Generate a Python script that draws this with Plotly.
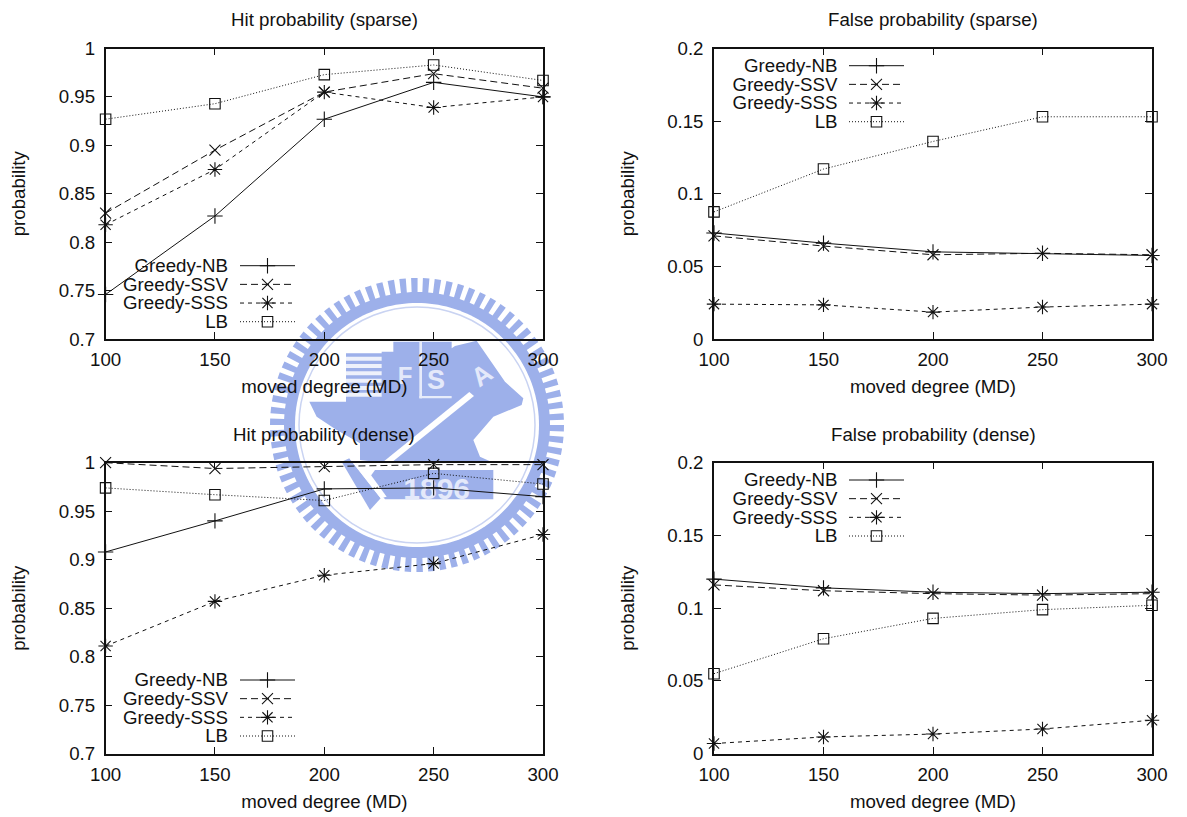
import numpy as np
import plotly.graph_objects as go

W, H = 1187, 817

# ---- data ----
moved_degree = [100, 150, 200, 250, 300]
series_names = ["Greedy-NB", "Greedy-SSV", "Greedy-SSS", "LB"]

hit_sparse_nb = [0.746, 0.827, 0.927, 0.965, 0.950]
hit_sparse_ssv = [0.830, 0.895, 0.955, 0.974, 0.959]
hit_sparse_sss = [0.818, 0.875, 0.955, 0.939, 0.950]
hit_sparse_lb = [0.927, 0.943, 0.973, 0.983, 0.967]

hit_dense_nb = [0.908, 0.940, 0.973, 0.974, 0.965]
hit_dense_ssv = [1.000, 0.994, 0.996, 0.998, 0.998]
hit_dense_sss = [0.811, 0.857, 0.884, 0.896, 0.926]
hit_dense_lb = [0.974, 0.967, 0.961, 0.989, 0.978]

false_sparse_nb = [0.073, 0.066, 0.060, 0.059, 0.0575]
false_sparse_ssv = [0.071, 0.064, 0.058, 0.059, 0.058]
false_sparse_sss = [0.024, 0.0235, 0.0185, 0.022, 0.024]
false_sparse_lb = [0.0875, 0.117, 0.136, 0.153, 0.153]

false_dense_nb = [0.120, 0.114, 0.111, 0.110, 0.111]
false_dense_ssv = [0.116, 0.112, 0.110, 0.109, 0.110]
false_dense_sss = [0.007, 0.0115, 0.0135, 0.017, 0.023]
false_dense_lb = [0.055, 0.079, 0.093, 0.099, 0.102]

hit_ticks = [0.7, 0.75, 0.8, 0.85, 0.9, 0.95, 1]
hit_labels = ["0.7", "0.75", "0.8", "0.85", "0.9", "0.95", "1"]
false_ticks = [0, 0.05, 0.1, 0.15, 0.2]
false_labels = ["0", "0.05", "0.1", "0.15", "0.2"]

FONT = "Liberation Sans, Arial, sans-serif"
FS = 18.7
INK = "#111111"
LOGO = "#9DB0EA"
STYLE = [
    dict(dash="solid", symbol="cross-thin", size=11),
    dict(dash="7px,4px", symbol="x-thin", size=11),
    dict(dash="4px,4px", symbol="asterisk", size=12),
    dict(dash="1px,2px", symbol="square-open", size=10.5),
]

PANELS = [
    dict(title="Hit probability (sparse)", vals=[hit_sparse_nb, hit_sparse_ssv, hit_sparse_sss, hit_sparse_lb],
         box=(105.6, 543, 48.5, 339), yr=(0.7, 1), ticks=hit_ticks, labels=hit_labels,
         leg=(228, 240, 295, 267.5, 265.7), title_y=20),
    dict(title="False probability (sparse)", vals=[false_sparse_nb, false_sparse_ssv, false_sparse_sss, false_sparse_lb],
         box=(714, 1152, 48.5, 339), yr=(0, 0.2), ticks=false_ticks, labels=false_labels,
         leg=(837.5, 849, 904, 876.5, 65.7), title_y=20),
    dict(title="Hit probability (dense)", vals=[hit_dense_nb, hit_dense_ssv, hit_dense_sss, hit_dense_lb],
         box=(105.6, 543, 462.7, 753.7), yr=(0.7, 1), ticks=hit_ticks, labels=hit_labels,
         leg=(228, 240, 295, 267.5, 680), title_y=434),
    dict(title="False probability (dense)", vals=[false_dense_nb, false_dense_ssv, false_dense_sss, false_dense_lb],
         box=(714, 1152, 462.7, 753.7), yr=(0, 0.2), ticks=false_ticks, labels=false_labels,
         leg=(837.5, 849, 904, 876.5, 480), title_y=434),
]

fig = go.Figure()
layout = dict(
    width=W, height=H, margin=dict(l=0, r=0, t=0, b=0, pad=0), autosize=False,
    paper_bgcolor="white", plot_bgcolor="rgba(0,0,0,0)", showlegend=False,
    font=dict(family=FONT, size=FS, color=INK),
)
annotations = []


def marker_of(st):
    return dict(symbol=st["symbol"], size=st["size"], color=INK, line=dict(color=INK, width=1.1))


for i, p in enumerate(PANELS):
    n = "" if i == 0 else str(i + 1)
    xa, ya = f"x{n}", f"y{n}"
    x0, x1, y0, y1 = p["box"]
    axis = dict(showline=True, mirror="allticks", linecolor=INK, linewidth=1.5, ticks="inside",
                ticklen=7, tickwidth=1.2, tickcolor=INK, showgrid=False, zeroline=False, automargin=False,
                tickfont=dict(family=FONT, size=FS, color=INK))
    layout[f"xaxis{n}"] = dict(axis, domain=[x0 / W, x1 / W], range=[100, 300], anchor=ya, ticklabelstandoff=3,
                               tickvals=moved_degree, ticktext=[str(v) for v in moved_degree],
                               title=dict(text="moved degree (MD)", standoff=11,
                                          font=dict(family=FONT, size=FS, color=INK)))
    layout[f"yaxis{n}"] = dict(axis, domain=[1 - y1 / H, 1 - y0 / H], range=list(p["yr"]), anchor=xa,
                               ticklabelstandoff=5, tickvals=p["ticks"], ticktext=p["labels"],
                               title=dict(text="probability", standoff=28,
                                          font=dict(family=FONT, size=FS, color=INK)))

    annotations.append(dict(text=p["title"], xref="paper", yref="paper", x=(x0 + x1) / 2 / W,
                            y=1 - p["title_y"] / H, showarrow=False, xanchor="center", yanchor="middle",
                            font=dict(family=FONT, size=FS, color=INK)))

    def dx(px):
        return 100 + (px - x0) / (x1 - x0) * 200

    def dy(py):
        return p["yr"][0] + (y1 - py) / (y1 - y0) * (p["yr"][1] - p["yr"][0])

    for name, vals, st in zip(series_names, p["vals"], STYLE):
        fig.add_trace(go.Scatter(
            x=moved_degree, y=vals, mode="lines+markers", name=name, xaxis=xa, yaxis=ya, cliponaxis=False,
            line=dict(color=INK, width=1, dash=st["dash"]), marker=marker_of(st)))

    # gnuplot-style key: right aligned label, then the sample line with its marker
    lab_x, key0, key1, key_m, row0 = p["leg"]
    for k, (name, st) in enumerate(zip(series_names, STYLE)):
        ry = dy(row0 + k * 18.67)
        fig.add_trace(go.Scatter(
            x=[dx(key0), dx(key_m), dx(key1)], y=[ry, ry, ry], mode="lines", xaxis=xa, yaxis=ya,
            line=dict(color=INK, width=1, dash=st["dash"]), cliponaxis=False, hoverinfo="skip"))
        fig.add_trace(go.Scatter(
            x=[dx(key_m)], y=[ry], mode="markers", xaxis=xa, yaxis=ya, cliponaxis=False, hoverinfo="skip",
            marker=marker_of(st)))
        fig.add_trace(go.Scatter(
            x=[dx(lab_x)], y=[dy(row0 + k * 18.67 + 1.5)], mode="text", text=[name], textposition="middle left",
            xaxis=xa, yaxis=ya, cliponaxis=False, hoverinfo="skip", textfont=dict(family=FONT, size=FS, color=INK)))

# ---- university seal watermark behind the charts (decoration, not data) ----
CX, CY = 417.0, 425.0


def fx(px):
    return px / W


def fy(py):
    return 1 - py / H


def path_from(points):
    return "M " + " L ".join(f"{fx(x):.5f},{fy(y):.5f}" for x, y in points) + " Z"


def crop(points):
    # seal outline points, measured in a 3x crop starting at (260, 270)
    return [(260 + x / 3, 270 + y / 3) for x, y in points]


def circle_pts(r, n=180):
    t = np.linspace(0, 2 * np.pi, n, endpoint=False)
    return list(zip(CX + r * np.cos(t), CY + r * np.sin(t)))


shapes = []


def add_poly(points, color):
    shapes.append(dict(type="path", xref="paper", yref="paper", path=path_from(points),
                       fillcolor=color, line=dict(width=0), layer="below"))


teeth = 78
pts = []
for j in range(teeth):
    a = 2 * np.pi * j / teeth
    step = 2 * np.pi / teeth
    for ang, r in [(a, 147), (a + step * 0.55, 147), (a + step * 0.55, 133), (a + step, 133)]:
        pts.append((CX + r * np.cos(ang), CY + r * np.sin(ang)))
add_poly(pts, LOGO)
add_poly(circle_pts(122), "white")
shapes.append(dict(type="circle", xref="paper", yref="paper", x0=fx(CX - 118), x1=fx(CX + 118),
                   y0=fy(CY + 118), y1=fy(CY - 118), line=dict(color="#C9D3F2", width=1.5), layer="below"))

# building, tower, flame emblem
add_poly(crop([(148, 395), (258, 395), (258, 250), (365, 250), (365, 245), (400, 245), (400, 215), (575, 215),
               (575, 235), (585, 228), (650, 212), (735, 335), (790, 385), (785, 405), (700, 440), (640, 510),
               (660, 560), (700, 578), (370, 578), (300, 570), (300, 520), (230, 480), (170, 440)]), LOGO)
# windows on the building
for yy in (260, 282, 304, 326, 348, 368):
    add_poly(crop([(258, yy), (365, yy), (365, yy + 12), (258, yy + 12)]), "#EEF1FB")
# separators
add_poly(crop([(478, 215), (486, 215), (486, 385), (478, 385)]), "#E7ECFA")
add_poly(crop([(478, 378), (575, 378), (575, 385), (478, 385)]), "#E7ECFA")
# diagonal white stripe
add_poly(crop([(628, 366), (642, 378), (340, 622), (322, 614)]), "white")
# 1896 band and ribbon
add_poly(crop([(345, 600), (700, 600), (700, 688), (375, 688), (325, 628)]), LOGO)
add_poly(crop([(245, 575), (268, 565), (362, 685), (330, 720)]), LOGO)
add_poly(crop([(268, 565), (300, 570), (380, 680), (362, 685)]), "white")
for txt, (tx, ty), size, ang in [("F", (435, 310), 24, 0), ("S", (528, 320), 27, 0),
                                 ("A", (662, 310), 26, -35), ("1896", (530, 645), 30, 0)]:
    px, py = 260 + tx / 3, 270 + ty / 3
    shapes.append(dict(type="rect", xref="paper", yref="paper", x0=fx(px - 45), x1=fx(px + 45),
                       y0=fy(py + 20), y1=fy(py - 20), line=dict(width=0), fillcolor="rgba(0,0,0,0)", layer="below",
                       label=dict(text=f"<b>{txt}</b>", textposition="middle center", textangle=ang,
                                  font=dict(family=FONT, size=size, color="#E4E9FA"))))

layout["annotations"] = annotations
layout["shapes"] = shapes
fig.update_layout(**layout)
fig.write_html("out.html", config=dict(displayModeBar=False), post_script="document.body.style.margin='0';")
